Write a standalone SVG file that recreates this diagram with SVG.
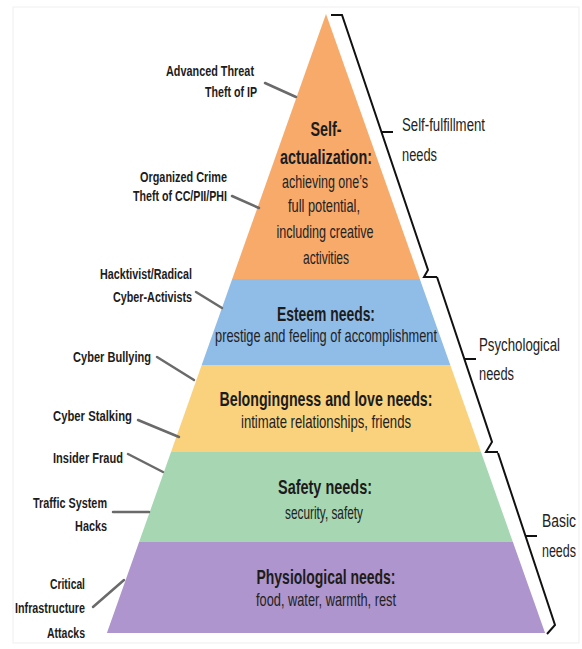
<svg xmlns="http://www.w3.org/2000/svg" width="582" height="649" viewBox="0 0 582 649">
<style>
.lbl{font-family:"Liberation Sans Narrow","Liberation Sans",Arial,sans-serif;font-weight:bold;font-size:15.5px;fill:#1c1c1c;text-anchor:end}
.hd{font-family:"Liberation Sans Narrow","Liberation Sans",Arial,sans-serif;font-weight:bold;font-size:20px;fill:#1c1c1c;text-anchor:middle}
.bd{font-family:"Liberation Sans Narrow","Liberation Sans",Arial,sans-serif;font-size:17.5px;fill:#222;text-anchor:middle}
.rt{font-family:"Liberation Sans Narrow","Liberation Sans",Arial,sans-serif;font-size:18.5px;fill:#222}
.con{stroke:#6a6a6a;stroke-width:2.5;fill:none;stroke-linecap:round}
.br{stroke:#111;stroke-width:2;fill:none;stroke-linejoin:miter}
</style>
<rect x="0" y="0" width="582" height="649" fill="#fff"/>
<rect x="13" y="7" width="566" height="636" fill="none" stroke="#efefef" stroke-width="1"/>

<g id="layer-self-actualization">
<polygon points="326,14 419.8,279 232.2,279" fill="#F8AA6B"/>
<text class="hd" transform="translate(326,136) scale(0.72,1)" textLength="43.1" lengthAdjust="spacingAndGlyphs">Self-</text>
<text class="hd" transform="translate(326,164) scale(0.72,1)" textLength="127.8" lengthAdjust="spacingAndGlyphs">actualization:</text>
<text class="bd" transform="translate(325,188) scale(0.72,1)" textLength="119.4" lengthAdjust="spacingAndGlyphs">achieving one’s</text>
<text class="bd" transform="translate(324,212) scale(0.72,1)" textLength="100" lengthAdjust="spacingAndGlyphs">full potential,</text>
<text class="bd" transform="translate(325,238) scale(0.72,1)" textLength="134.7" lengthAdjust="spacingAndGlyphs">including creative</text>
<text class="bd" transform="translate(326,264) scale(0.72,1)" textLength="63.9" lengthAdjust="spacingAndGlyphs">activities</text>
</g>

<g id="layer-esteem">
<polygon points="232.2,279 419.8,279 450.3,365 201.7,365" fill="#90BCE8"/>
<text class="hd" transform="translate(326,321) scale(0.72,1)" textLength="136.1" lengthAdjust="spacingAndGlyphs">Esteem needs:</text>
<text class="bd" transform="translate(326,342) scale(0.72,1)" textLength="308.3" lengthAdjust="spacingAndGlyphs">prestige and feeling of accomplishment</text>
</g>

<g id="layer-belonging">
<polygon points="201.7,365 450.3,365 481,452 171,452" fill="#FAD27D"/>
<text class="hd" transform="translate(326,406) scale(0.72,1)" textLength="295.8" lengthAdjust="spacingAndGlyphs">Belongingness and love needs:</text>
<text class="bd" transform="translate(326,428) scale(0.72,1)" textLength="236.1" lengthAdjust="spacingAndGlyphs">intimate relationships, friends</text>
</g>

<g id="layer-safety">
<polygon points="171,452 481,452 512.9,542 139.1,542" fill="#A6D7B2"/>
<text class="hd" transform="translate(325,494) scale(0.72,1)" textLength="130.6" lengthAdjust="spacingAndGlyphs">Safety needs:</text>
<text class="bd" transform="translate(324,519) scale(0.72,1)" textLength="108.3" lengthAdjust="spacingAndGlyphs">security, safety</text>
</g>

<g id="layer-physiological">
<polygon points="139.1,542 512.9,542 545.1,633 106.9,633" fill="#AE95CD"/>
<text class="hd" transform="translate(326,584) scale(0.72,1)" textLength="193.1" lengthAdjust="spacingAndGlyphs">Physiological needs:</text>
<text class="bd" transform="translate(326,606) scale(0.72,1)" textLength="194.4" lengthAdjust="spacingAndGlyphs">food, water, warmth, rest</text>
</g>

<g id="connectors">
<line class="con" x1="265" y1="83" x2="296" y2="97"/>
<line class="con" x1="232" y1="196" x2="259" y2="208"/>
<line class="con" x1="196" y1="292" x2="222" y2="308"/>
<line class="con" x1="157" y1="357" x2="194" y2="380"/>
<line class="con" x1="138" y1="420" x2="179" y2="437"/>
<line class="con" x1="128" y1="454" x2="163" y2="472"/>
<line class="con" x1="113" y1="512" x2="149" y2="512"/>
<line class="con" x1="93" y1="607" x2="124" y2="580"/>
</g>

<g id="bracket-self-fulfillment">
<path class="br" d="M331,15 H342 L428,270 L424,277 H437"/>
<path class="br" d="M381,132 H393"/>
<text class="rt" transform="translate(402,131) scale(0.72,1)" textLength="115.3" lengthAdjust="spacingAndGlyphs">Self-fulfillment</text>
<text class="rt" transform="translate(402,161) scale(0.72,1)" textLength="48.6" lengthAdjust="spacingAndGlyphs">needs</text>
</g>
<g id="bracket-psychological">
<path class="br" d="M437,277 L492,442 L486,452 H498"/>
<path class="br" d="M465,359 H476"/>
<text class="rt" transform="translate(479,351) scale(0.72,1)" textLength="112.5" lengthAdjust="spacingAndGlyphs">Psychological</text>
<text class="rt" transform="translate(479,380) scale(0.72,1)" textLength="48.6" lengthAdjust="spacingAndGlyphs">needs</text>
</g>
<g id="bracket-basic">
<path class="br" d="M498,453 L555,625 L547,634"/>
<path class="br" d="M525,536 H537"/>
<text class="rt" transform="translate(542,527) scale(0.72,1)" textLength="47.2" lengthAdjust="spacingAndGlyphs">Basic</text>
<text class="rt" transform="translate(542,557) scale(0.72,1)" textLength="47.2" lengthAdjust="spacingAndGlyphs">needs</text>
</g>

<g id="label-advanced-threat">
<text class="lbl" transform="translate(254,76) scale(0.72,1)" textLength="122.2" lengthAdjust="spacingAndGlyphs">Advanced Threat</text>
<text class="lbl" transform="translate(257,97) scale(0.72,1)" textLength="72.2" lengthAdjust="spacingAndGlyphs">Theft of IP</text>
</g>
<g id="label-organized-crime">
<text class="lbl" transform="translate(227,182) scale(0.72,1)" textLength="120.8" lengthAdjust="spacingAndGlyphs">Organized Crime</text>
<text class="lbl" transform="translate(227,201) scale(0.72,1)" textLength="130.6" lengthAdjust="spacingAndGlyphs">Theft of CC/PII/PHI</text>
</g>
<g id="label-hacktivist">
<text class="lbl" transform="translate(192,279) scale(0.72,1)" textLength="127.8" lengthAdjust="spacingAndGlyphs">Hacktivist/Radical</text>
<text class="lbl" transform="translate(192,302) scale(0.72,1)" textLength="109.7" lengthAdjust="spacingAndGlyphs">Cyber-Activists</text>
</g>
<g id="label-cyber-bullying">
<text class="lbl" transform="translate(151,362) scale(0.72,1)" textLength="108.3" lengthAdjust="spacingAndGlyphs">Cyber Bullying</text>
</g>
<g id="label-cyber-stalking">
<text class="lbl" transform="translate(132,421) scale(0.72,1)" textLength="109.7" lengthAdjust="spacingAndGlyphs">Cyber Stalking</text>
</g>
<g id="label-insider-fraud">
<text class="lbl" transform="translate(123,463) scale(0.72,1)" textLength="97.2" lengthAdjust="spacingAndGlyphs">Insider Fraud</text>
</g>
<g id="label-traffic">
<text class="lbl" transform="translate(107,508) scale(0.72,1)" textLength="102.8" lengthAdjust="spacingAndGlyphs">Traffic System</text>
<text class="lbl" transform="translate(107,531) scale(0.72,1)" textLength="44.4" lengthAdjust="spacingAndGlyphs">Hacks</text>
</g>
<g id="label-critical">
<text class="lbl" transform="translate(85,589) scale(0.72,1)" textLength="48.6" lengthAdjust="spacingAndGlyphs">Critical</text>
<text class="lbl" transform="translate(85,613) scale(0.72,1)" textLength="97.2" lengthAdjust="spacingAndGlyphs">Infrastructure</text>
<text class="lbl" transform="translate(85,638) scale(0.72,1)" textLength="52.8" lengthAdjust="spacingAndGlyphs">Attacks</text>
</g>
</svg>
